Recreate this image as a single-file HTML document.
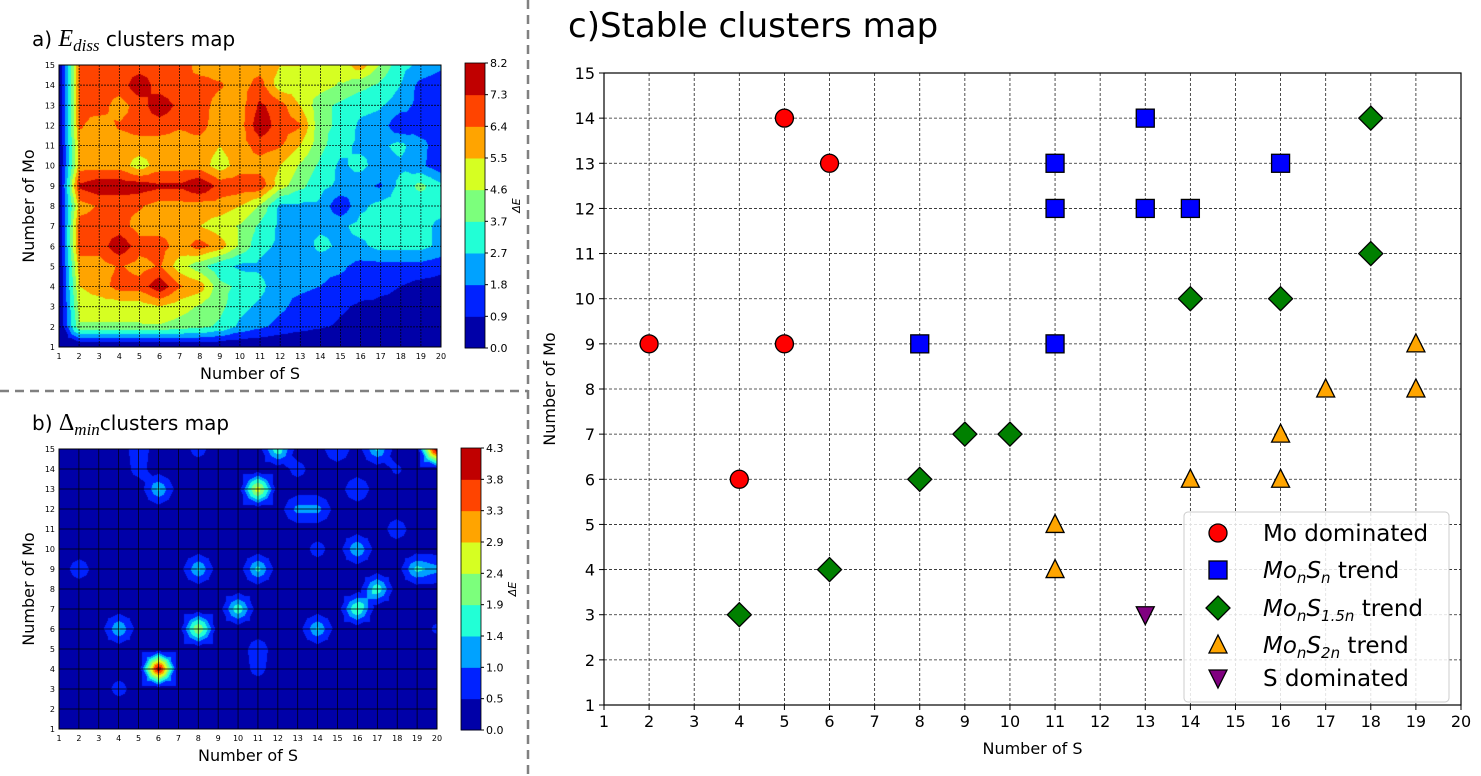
<!DOCTYPE html>
<html><head><meta charset="utf-8"><style>
html,body{margin:0;padding:0;background:#fff;}
body{width:1481px;height:776px;position:relative;overflow:hidden;font-family:"DejaVu Sans","Liberation Sans",sans-serif;}
canvas{position:absolute;}
svg{position:absolute;left:0;top:0;}
</style></head><body>
<canvas id="ca" width="382" height="282" style="left:59px;top:65px"></canvas>
<canvas id="cb" width="378" height="280" style="left:59px;top:449px"></canvas>
<svg id="s" width="1481" height="776" xmlns="http://www.w3.org/2000/svg" font-family="DejaVu Sans, Liberation Sans, sans-serif"></svg>
<script>
const cols=["#0000a8","#0022ff","#00a2ff","#22ffd6","#7cff7c","#d6ff22","#ffa400","#ff4400","#c00000"];
function hex(c){return [parseInt(c.substr(1,2),16),parseInt(c.substr(3,2),16),parseInt(c.substr(5,2),16)];}
const A=[
[0,6.5,6.8,6.8,6.8,6.8,7,6,6,6,6,5.5,5.5,5,5,6,4.5,3,2.5,2.0],
[0,6.5,6.8,6.8,8,6.8,6.5,6.8,6.5,6,6.8,5,5,5,4.5,4,3.5,2.7,1.5,1.2],
[0,6.5,6.8,6,6.8,8,7,6.8,6,6,7.5,6.8,5.5,4,3.5,3,2.8,2.2,1.5,1.0],
[0,6.5,6,6.5,6.8,6.8,6.5,6.8,5.8,6,8,6.8,6.5,4,3.5,2.5,2.3,1,1.5,1.5],
[0,6,6,6,6,6,6,6,5.5,6,6.8,6.5,5.5,4,3,2.5,2.5,3,2,1.5],
[0,6,6,6,5,6,6,6,5,6,6,5.5,4.5,3.5,2.5,3,2.2,2.5,2,1.2],
[0,7.5,8,8,7.8,7.5,7.5,8.2,7,7,7,5,4,3,2.5,2,1.7,3,4,3],
[0,6,6.5,6.5,6.5,6,6,6,6,5.5,4.5,2.5,2.5,2.5,1.0,2.5,3,3,3,3],
[0,6.8,6.8,6.8,6,6,6,5.5,5,4.5,3.5,2.5,2.5,2.5,2.5,3,3,3,3,2.5],
[0,6.8,6.8,8,6.8,6.8,6,6.8,6,4.5,3,2.5,2,3,2.5,2.5,3,3,3,2.5],
[0,6,6,6.5,6,6.5,5,4,3,2.5,2.5,2,2,2,2,1.5,1.5,1.5,1.5,1.2],
[0,5.5,6,6.8,6.8,8,6.5,6,4,3.5,3,2,2,1.8,1.5,1.2,1,0.9,0.6,0.5],
[0,5,5,5,5,5.5,5,4.5,4,3,2.5,2,1.5,1.3,1,0.8,0.8,0.8,0.6,0.5],
[0,4.5,4.5,4.5,4.5,4.5,4.2,4,3.5,2.5,2,1.5,1.2,1,0.8,0.7,0.6,0.5,0.4,0.3],
new Array(20).fill(0)];
const B=[];for(let r=0;r<15;r++)B.push(new Array(20).fill(0.2));
const pk=[[6,4,4.3],[8,6,2.5],[11,13,2.8],[4,6,1.5],[6,13,1.5],[8,9,1.5],[10,7,1.8],[11,9,1.6],[14,6,1.5],[16,7,2],[16,10,1.5],[17,8,1.8],[19,9,1.6],[20,9,1.2],[12,15,1.8],[17,15,1.5],[15,15,1],[13,12,1.2],[14,12,1.2],[16,13,1.0],[2,9,0.8],[18,11,0.8],[14,10,0.7],[11,4,0.7],[11,5,0.8],[4,3,0.7],[20,15,4.3],[5,15,0.8],[5,14,0.7],[8,15,0.7],[13,14,0.7],[18,14,0.6],[20,6,0.6]];
pk.forEach(p=>{B[15-p[1]][p[0]-1]=p[2];});
function tri(px,py,a,b,c){const d=(b[1]-c[1])*(a[0]-c[0])+(c[0]-b[0])*(a[1]-c[1]);
 const l1=((b[1]-c[1])*(px-c[0])+(c[0]-b[0])*(py-c[1]))/d;const l2=((c[1]-a[1])*(px-c[0])+(a[0]-c[0])*(py-c[1]))/d;
 return l1*a[2]+l2*b[2]+(1-l1-l2)*c[2];}
function draw(id,G,lv){
 const c=document.getElementById(id),ctx=c.getContext('2d'),w=c.width,h=c.height;
 const im=ctx.createImageData(w,h);const C=cols.map(hex);
 for(let y=0;y<h;y++)for(let x=0;x<w;x++){
  const fx=x/(w-1)*19,fy=y/(h-1)*14;
  const i=Math.min(18,Math.floor(fx)),j=Math.min(13,Math.floor(fy));
  const tx=fx-i,ty=fy-j;
  const p00=[0,0,G[j][i]],p10=[1,0,G[j][i+1]],p01=[0,1,G[j+1][i]],p11=[1,1,G[j+1][i+1]];
  const pc=[0.5,0.5,(p00[2]+p10[2]+p01[2]+p11[2])/4];
  let v;
  if(ty<=tx&&ty<=1-tx)v=tri(tx,ty,p00,p10,pc);
  else if(ty>=tx&&ty>=1-tx)v=tri(tx,ty,p01,p11,pc);
  else if(tx<0.5)v=tri(tx,ty,p00,p01,pc);
  else v=tri(tx,ty,p10,p11,pc);
  let k=0;while(k<8&&v>=lv[k+1])k++;
  const o=(y*w+x)*4;im.data[o]=C[k][0];im.data[o+1]=C[k][1];im.data[o+2]=C[k][2];im.data[o+3]=255;}
 ctx.putImageData(im,0,0);
}
draw('ca',A,[0,0.9,1.8,2.7,3.7,4.6,5.5,6.4,7.3,8.2]);
draw('cb',B,[0,0.5,1.0,1.4,1.9,2.4,2.9,3.3,3.8,4.3]);
let s='';
function panel(x0,x1,y0,y1,dash,cbx,cby0,cby1,labs){
 const dx=(x1-x0)/19,dy=(y1-y0)/14;
 for(let i=0;i<20;i++){const x=x0+i*dx;s+=`<line x1="${x}" y1="${y0}" x2="${x}" y2="${y1}" stroke="#000" stroke-width="0.7" ${dash?'stroke-dasharray="2,1"':''}/>`;
  s+=`<text x="${x}" y="${y1+12}" font-size="8" text-anchor="middle">${i+1}</text>`;}
 for(let j=0;j<15;j++){const y=y1-j*dy;s+=`<line x1="${x0}" y1="${y}" x2="${x1}" y2="${y}" stroke="#000" stroke-width="0.7" ${dash?'stroke-dasharray="2,1"':''}/>`;
  s+=`<text x="${x0-4}" y="${y+3}" font-size="8" text-anchor="end">${j+1}</text>`;}
 s+=`<rect x="${x0}" y="${y0}" width="${x1-x0}" height="${y1-y0}" fill="none" stroke="#000" stroke-width="1"/>`;
 const ch=(cby1-cby0)/9;
 for(let k=0;k<9;k++){s+=`<rect x="${cbx}" y="${cby1-(k+1)*ch}" width="20" height="${ch+0.5}" fill="${cols[k]}"/>`;}
 s+=`<rect x="${cbx}" y="${cby0}" width="20" height="${cby1-cby0}" fill="none" stroke="#000" stroke-width="0.8"/>`;
 labs.forEach((l,k)=>{const y=cby1-k*ch;s+=`<line x1="${cbx+20}" y1="${y}" x2="${cbx+23}" y2="${y}" stroke="#000"/><text x="${cbx+25}" y="${y+4}" font-size="11">${l}</text>`;});
 s+=`<text transform="translate(${cbx+55},${(cby0+cby1)/2}) rotate(-90)" font-size="11" font-style="italic" text-anchor="middle">ΔE</text>`;
 s+=`<text x="${(x0+x1)/2}" y="${y1+32}" font-size="16" text-anchor="middle">Number of S</text>`;
 s+=`<text transform="translate(34,${(y0+y1)/2}) rotate(-90)" font-size="16" text-anchor="middle">Number of Mo</text>`;
}
panel(59,441,65,347,true,465,63,348,["0.0","0.9","1.8","2.7","3.7","4.6","5.5","6.4","7.3","8.2"]);
panel(59,437,449,729,false,461,448,730,["0.0","0.5","1.0","1.4","1.9","2.4","2.9","3.3","3.8","4.3"]);
s+=`<text x="32" y="46" font-size="20">a) <tspan font-family="Liberation Serif, serif" font-style="italic" font-size="24">E</tspan><tspan font-family="Liberation Serif, serif" font-style="italic" font-size="17" dy="5">diss</tspan><tspan dy="-5">  clusters map</tspan></text>`;
s+=`<text x="32" y="430" font-size="20">b) <tspan font-family="Liberation Serif, serif" font-size="24">Δ</tspan><tspan font-family="Liberation Serif, serif" font-style="italic" font-size="17" dy="5">min</tspan><tspan dy="-5">clusters map</tspan></text>`;
s+=`<line x1="528" y1="0" x2="528" y2="776" stroke="#808080" stroke-width="2.5" stroke-dasharray="9,6"/>`;
s+=`<line x1="0" y1="391" x2="528" y2="391" stroke="#808080" stroke-width="2.5" stroke-dasharray="9,6"/>`;
const X0=604,X1=1461,Y0=73,Y1=705,DX=(X1-X0)/19,DY=(Y1-Y0)/14;
const px=v=>X0+(v-1)*DX,py=v=>Y1-(v-1)*DY;
for(let i=1;i<=20;i++){const x=px(i);if(i>1&&i<20)s+=`<line x1="${x}" y1="${Y0}" x2="${x}" y2="${Y1}" stroke="#222" stroke-width="0.8" stroke-dasharray="3,2"/>`;
 s+=`<line x1="${x}" y1="${Y1}" x2="${x}" y2="${Y1+5}" stroke="#000"/><text x="${x}" y="${Y1+22}" font-size="16" text-anchor="middle">${i}</text>`;}
for(let j=1;j<=15;j++){const y=py(j);if(j>1&&j<15)s+=`<line x1="${X0}" y1="${y}" x2="${X1}" y2="${y}" stroke="#222" stroke-width="0.8" stroke-dasharray="3,2"/>`;
 s+=`<line x1="${X0-5}" y1="${y}" x2="${X0}" y2="${y}" stroke="#000"/><text x="${X0-9}" y="${y+6}" font-size="16" text-anchor="end">${j}</text>`;}
s+=`<rect x="${X0}" y="${Y0}" width="${X1-X0}" height="${Y1-Y0}" fill="none" stroke="#000" stroke-width="1.2"/>`;
s+=`<text x="${(X0+X1)/2}" y="754" font-size="16" text-anchor="middle">Number of S</text>`;
s+=`<text transform="translate(555,${(Y0+Y1)/2}) rotate(-90)" font-size="16" text-anchor="middle">Number of Mo</text>`;
s+=`<text x="568" y="37" font-size="34">c)Stable clusters map</text>`;
function mk(t,x,y){const st='stroke="#000" stroke-width="1.3"';
 if(t==0)return `<circle cx="${x}" cy="${y}" r="9" fill="#ff0000" ${st}/>`;
 if(t==1)return `<rect x="${x-9}" y="${y-9}" width="18" height="18" fill="#0000ff" ${st}/>`;
 if(t==2)return `<polygon points="${x},${y-12} ${x+12},${y} ${x},${y+12} ${x-12},${y}" fill="#008000" ${st}/>`;
 if(t==3)return `<polygon points="${x},${y-10} ${x+9},${y+8} ${x-9},${y+8}" fill="#ffa500" ${st}/>`;
 return `<polygon points="${x},${y+10} ${x+9},${y-8} ${x-9},${y-8}" fill="#800080" ${st}/>`;}
const P=[[0,[[2,9],[4,6],[5,14],[5,9],[6,13]]],[1,[[8,9],[11,13],[11,12],[11,9],[13,14],[13,12],[14,12],[16,13]]],
[2,[[4,3],[6,4],[8,6],[9,7],[10,7],[14,10],[16,10],[18,14],[18,11]]],[3,[[11,5],[11,4],[14,6],[16,7],[16,6],[17,8],[19,9],[19,8]]],[4,[[13,3]]]];
P.forEach(g=>g[1].forEach(p=>{s+=mk(g[0],px(p[0]),py(p[1]));}));
s+=`<rect x="1184" y="512" width="265" height="190" rx="4" fill="#fff" fill-opacity="0.85" stroke="#ccc"/>`;
const L=[[533,'Mo dominated'],[570,'<tspan font-style="italic">Mo</tspan><tspan font-style="italic" font-size="15" dy="5">n</tspan><tspan font-style="italic" dy="-5">S</tspan><tspan font-style="italic" font-size="15" dy="5">n</tspan><tspan dy="-5"> trend</tspan>'],
[608,'<tspan font-style="italic">Mo</tspan><tspan font-style="italic" font-size="15" dy="5">n</tspan><tspan font-style="italic" dy="-5">S</tspan><tspan font-style="italic" font-size="15" dy="5">1.5n</tspan><tspan dy="-5"> trend</tspan>'],
[645,'<tspan font-style="italic">Mo</tspan><tspan font-style="italic" font-size="15" dy="5">n</tspan><tspan font-style="italic" dy="-5">S</tspan><tspan font-style="italic" font-size="15" dy="5">2n</tspan><tspan dy="-5"> trend</tspan>'],[678,'S dominated']];
L.forEach((l,k)=>{s+=mk(k,1218,l[0]);s+=`<text x="1263" y="${l[0]+8}" font-size="23">${l[1]}</text>`;});
document.getElementById('s').innerHTML=s;
</script>
</body></html>
